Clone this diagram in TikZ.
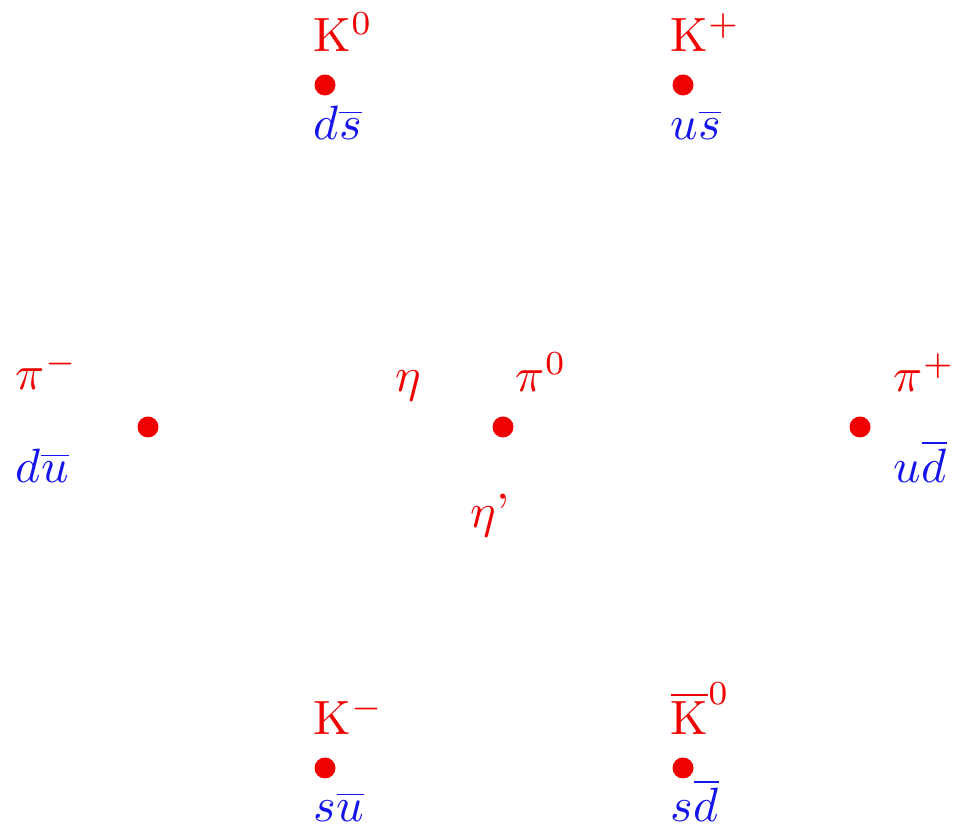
\documentclass[tikz,border=0pt]{standalone}
\usepackage{amsmath}
\usepackage{xcolor}
\usetikzlibrary{positioning}
\definecolor{mesred}{RGB}{240,0,0}
\definecolor{mesblue}{RGB}{20,20,235}

\begin{document}
\begin{tikzpicture}[
    dot/.style={circle, fill=mesred, minimum size=0.21cm, inner sep=0pt},
    meson/.style={anchor=base west, inner sep=0pt, text=mesred,
        font=\normalsize, scale=1.37, transform shape},
    quarks/.style={anchor=base west, inner sep=0pt, text=mesblue,
        font=\normalsize, scale=1.37, transform shape}
]
\useasboundingbox (0,0) rectangle (9.61,8.35);

% Weight points.
\foreach \n/\x/\y in {K0/3.25/7.50, Kp/6.83/7.50, pim/1.48/4.08, pi0/5.03/4.08,
                      pip/8.60/4.08, Km/3.25/0.67, Kb/6.83/0.67} {
    \node[dot] (\n) at (\x,\y) {};
}

% Top row.
\node[meson] (K0name) at (3.13,7.83) {$\mathrm{K}^0$};
\node[quarks] (K0q) at (3.13,6.95) {$d\overline{s}$};
\node[meson] (Kpname) at (6.70,7.83) {$\mathrm{K}^+$};
\node[quarks] (Kpq) at (6.70,6.95) {$u\overline{s}$};

% Middle row.
\node[meson] (piminame) at (0.15,4.45) {$\pi^-$};
\node[quarks] (pimq) at (0.15,3.52) {$d\overline{u}$};
\node[meson] (etaname) at (3.95,4.43) {$\eta$};
\node[meson] (pi0name) at (5.15,4.43) {$\pi^0$};
\node[meson] (etapname) at (4.70,3.07) {$\eta$'};
\node[meson] (pipname) at (8.93,4.43) {$\pi^+$};
\node[quarks] (pipq) at (8.93,3.52) {$u\overline{d}$};

% Bottom row.
\node[meson] (Kmname) at (3.13,1.00) {$\mathrm{K}^-$};
\node[quarks] (Kmq) at (3.13,0.13) {$s\overline{u}$};
\node[meson] (Kbname) at (6.70,1.00) {$\overline{\mathrm{K}}^0$};
\node[quarks] (Kbq) at (6.70,0.13) {$s\overline{d}$};

\end{tikzpicture}
\end{document}
